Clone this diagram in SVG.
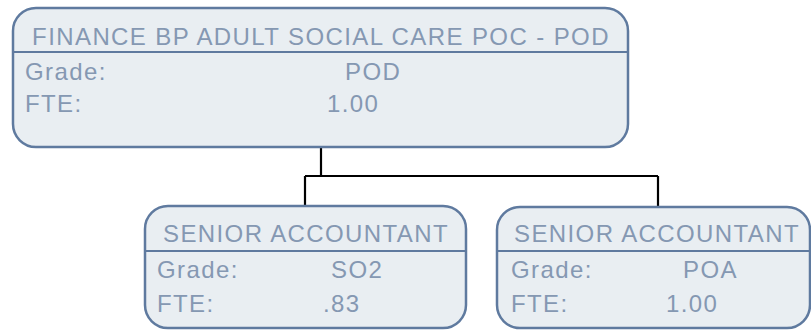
<svg xmlns="http://www.w3.org/2000/svg" width="811" height="330" viewBox="0 0 811 330">
<style>
.box{fill:#e9eef2;stroke:#5f7a9f;stroke-width:2.5}
.div{stroke:#5f7a9f;stroke-width:2}
text{font-family:"Liberation Sans",Arial,sans-serif;font-size:24px;fill:#8598b2;letter-spacing:1.4px}
.hdr{text-anchor:middle}
.conn{fill:none;stroke:#000;stroke-width:2.2}
</style>
<rect width="811" height="330" fill="#fff"/>
<g id="connectors">
<path class="conn" d="M321 147V176M305 176H658M305 176V206M658 176V207"/>
</g>
<g id="node-pod">
<rect class="box" x="13" y="8" width="615" height="139" rx="23"/>
<line class="div" x1="13" y1="52" x2="628" y2="52"/>
<text class="hdr" x="321" y="45">FINANCE BP ADULT SOCIAL CARE POC - POD</text>
<text x="25" y="80">Grade:</text>
<text x="345" y="80">POD</text>
<text x="25" y="112">FTE:</text>
<text x="327" y="112">1.00</text>
</g>
<g id="node-so2">
<rect class="box" x="145" y="206" width="321" height="122" rx="23"/>
<line class="div" x1="145" y1="251" x2="466" y2="251"/>
<text class="hdr" x="306" y="242">SENIOR ACCOUNTANT</text>
<text x="157" y="278">Grade:</text>
<text x="331" y="278">SO2</text>
<text x="157" y="312">FTE:</text>
<text x="323" y="312">.83</text>
</g>
<g id="node-poa">
<rect class="box" x="497" y="207" width="313" height="121" rx="23"/>
<line class="div" x1="497" y1="251" x2="810" y2="251"/>
<text class="hdr" x="657" y="242">SENIOR ACCOUNTANT</text>
<text x="511" y="278">Grade:</text>
<text x="683" y="278">POA</text>
<text x="511" y="312">FTE:</text>
<text x="666" y="312">1.00</text>
</g>
</svg>
